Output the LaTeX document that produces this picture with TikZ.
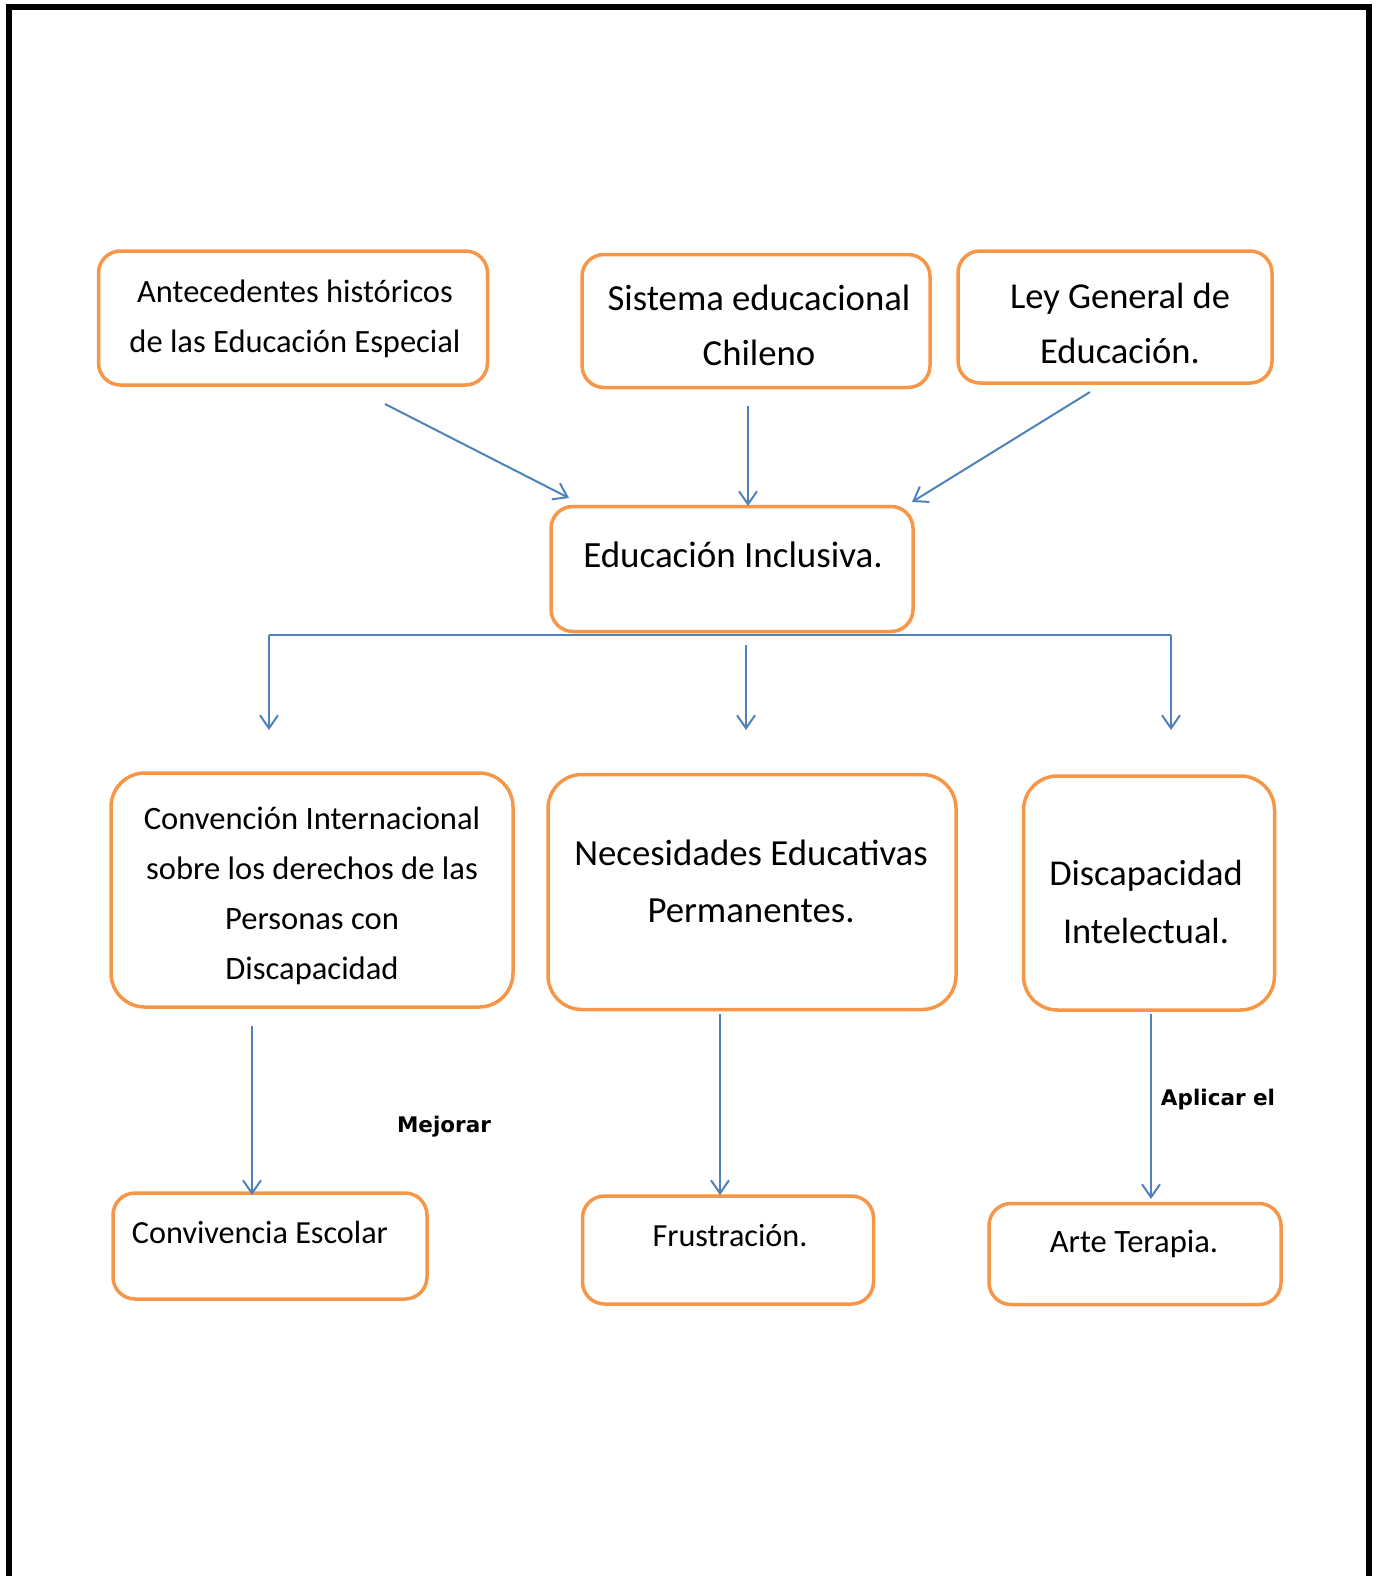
\documentclass[tikz,border=0pt]{standalone}
\usepackage{fontspec}
\setmainfont{Carlito}
\newfontfamily\lblfont{DejaVu Sans}
\usetikzlibrary{arrows.meta}
\definecolor{boxorange}{HTML}{F79646}
\definecolor{arrblue}{HTML}{4F81BD}
\newcommand{\fs}[2]{\fontsize{#1}{#2}\selectfont}
\begin{document}
\begin{tikzpicture}[x=1pt,y=-1pt,
		box/.style={draw=boxorange,line width=3.5pt,rounded corners=22pt,inner sep=0pt},
		tallbox/.style={box,rounded corners=34pt},
		txt/.style={align=center,inner sep=0pt},
		line/.style={draw=arrblue,line width=2pt},
		arr/.style={line,-{Straight Barb[length=13pt,width=18pt,line width=2pt]}},
		lbl/.style={font=\lblfont\bfseries\fs{21.5}{25},inner sep=0pt}]
		\useasboundingbox (0,0) rectangle (1376,1576);
		\draw[line width=6pt] (9,1576) -- (9,7) -- (1369,7) -- (1369,1576);
		\node[box,minimum width=389pt,minimum height=134pt] (1) at (293,318) {};
		\node[box,minimum width=348pt,minimum height=133pt] (2) at (756,321) {};
		\node[box,minimum width=314pt,minimum height=132pt] (3) at (1115,317) {};
		\node[box,minimum width=362pt,minimum height=125pt] (4) at (732,569) {};
		\node[tallbox,minimum width=402pt,minimum height=234pt] (5) at (312,890) {};
		\node[tallbox,minimum width=408pt,minimum height=235pt] (6) at (752,892) {};
		\node[tallbox,minimum width=251pt,minimum height=234pt] (7) at (1149,893) {};
		\node[box,minimum width=314pt,minimum height=106pt] (8) at (270,1246) {};
		\node[box,minimum width=291pt,minimum height=108pt] (9) at (728,1250) {};
		\node[box,minimum width=292pt,minimum height=101pt] (10) at (1135,1254) {};
		\node[txt,font=\fs{32.5}{50}] (1t) at (295,319) {Antecedentes históricos\\de las Educación Especial};
		\node[txt,font=\fs{36.7}{55}] (2t) at (759,325) {Sistema educacional\\Chileno};
		\node[txt,font=\fs{36.5}{55}] (3t) at (1120,323) {Ley General de\\Educación.};
		\node[txt,font=\fs{37}{50}] (4t) at (733,555) {Educación Inclusiva.};
		\node[txt,font=\fs{32.6}{50}] (5t) at (312,896) {Convención Internacional\\sobre los derechos de las\\Personas con\\Discapacidad};
		\node[txt,font=\fs{36.8}{57}] (6t) at (751,881) {Necesidades Educativas\\Permanentes.};
		\node[txt,font=\fs{36.4}{58}] (7t) at (1146,902) {Discapacidad\\Intelectual.};
		\node[txt,font=\fs{32.2}{34}] (8t) at (260,1232) {Convivencia Escolar};
		\node[txt,font=\fs{32.2}{34}] (9t) at (730,1236) {Frustración.};
		\node[txt,font=\fs{32.6}{34}] (10t) at (1134,1244) {Arte Terapia.};
		\node[lbl] (m) at (444,1127) {Mejorar};
		\node[lbl] (a) at (1218,1100) {Aplicar el};
		\coordinate (1s) at (385,404);
		\coordinate (2s) at (748,406);
		\coordinate (3s) at (1090,392);
		\coordinate (4a) at (569,498);
		\coordinate (4b) at (748,506);
		\coordinate (4c) at (912,502);
		\coordinate (4l) at (269,635);
		\coordinate (4m) at (746,645);
		\coordinate (4r) at (1171,635);
		\coordinate (5n) at (269,730);
		\coordinate (6n) at (746,730);
		\coordinate (7n) at (1171,730);
		\coordinate (5s) at (252,1026);
		\coordinate (6s) at (720,1014);
		\coordinate (7s) at (1151,1014);
		\coordinate (8n) at (252,1195);
		\coordinate (9n) at (720,1195);
		\coordinate (10n) at (1151,1199);
		\draw[arr] (1s) -- (4a);
		\draw[arr] (2s) -- (4b);
		\draw[arr] (3s) -- (4c);
		\draw[line] (4l) -- (4r);
		\draw[arr] (4l) -- (5n);
		\draw[arr] (4m) -- (6n);
		\draw[arr] (4r) -- (7n);
		\draw[arr] (5s) -- (8n);
		\draw[arr] (6s) -- (9n);
		\draw[arr] (7s) -- (10n);
	\end{tikzpicture}
\end{document}
